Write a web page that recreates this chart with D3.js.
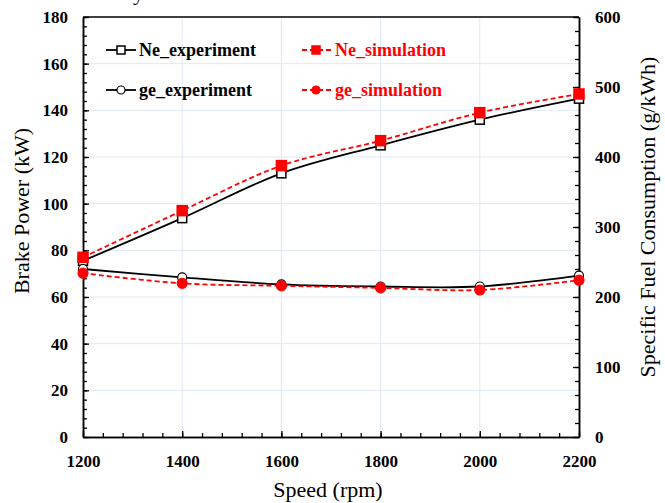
<!DOCTYPE html>
<html>
<head>
<meta charset="utf-8">
<script src="https://cdn.jsdelivr.net/npm/d3@7"></script>
<style>
  body { margin: 0; background: #fff; }
  text { font-family: "Liberation Serif", "Times New Roman", serif; }
</style>
</head>
<body>
<svg id="svg1" width="665" height="503"></svg>
<script>
// data
const speeds = [1200, 1400, 1600, 1800, 2000, 2200];
const neExperiment = [75.5, 93.8, 113, 125, 136, 145];
const neSimulation = [77, 97, 116.3, 127, 139, 147];
const geExperiment = [240, 228, 218, 215, 215, 230.5];
const geSimulation = [234, 219.5, 216, 213, 210, 224];

const speedTicks = [1200, 1400, 1600, 1800, 2000, 2200];
const powerTicks = [0, 20, 40, 60, 80, 100, 120, 140, 160, 180];
const sfcTicks = [0, 100, 200, 300, 400, 500, 600];

const svg = d3.select('#svg1');
const plotLeft = 83, plotRight = 579, plotTop = 17, plotBottom = 437;

const x = d3.scaleLinear().domain([1200, 2200]).range([plotLeft, plotRight]);
const yPow = d3.scaleLinear().domain([0, 180]).range([plotBottom, plotTop]);
const ySfc = d3.scaleLinear().domain([0, 600]).range([plotBottom, plotTop]);

// clipped title remnant at the very top
svg.append('text').attr('x', 133).attr('y', -0.5)
  .attr('font-size', 22).text('y');

// grid
const grid = svg.append('g').attr('stroke', '#dfe8f3').attr('stroke-width', 1);
grid.selectAll('.gx').data(speedTicks.slice(1, -1)).enter().append('line')
  .attr('x1', d => x(d)).attr('x2', d => x(d)).attr('y1', plotTop).attr('y2', plotBottom);
grid.selectAll('.gy').data(powerTicks.slice(1, -1)).enter().append('line')
  .attr('x1', plotLeft).attr('x2', plotRight).attr('y1', d => yPow(d)).attr('y2', d => yPow(d));

// frame top
svg.append('line').attr('x1', plotLeft).attr('x2', plotRight).attr('y1', plotTop).attr('y2', plotTop)
  .attr('stroke', '#000').attr('stroke-width', 1.5);

function styleAxis(g) {
  g.select('.domain').attr('stroke', '#000').attr('stroke-width', 1.5);
  g.selectAll('.tick line').attr('stroke', '#000').attr('stroke-width', 1.3);
  g.selectAll('.tick text').attr('font-family', '"Liberation Serif", serif')
    .attr('font-size', 17).attr('font-weight', 'bold').attr('fill', '#000');
}

// minor ticks
svg.append('g').attr('transform', `translate(0,${plotBottom})`)
  .call(d3.axisBottom(x).tickValues(d3.range(1200, 2201, 40)).tickSize(-4).tickSizeOuter(0).tickFormat(''))
  .call(styleAxis);
svg.append('g').attr('transform', `translate(${plotLeft},0)`)
  .call(d3.axisLeft(yPow).tickValues(d3.range(0, 181, 4)).tickSize(-4).tickSizeOuter(0).tickFormat(''))
  .call(styleAxis);
svg.append('g').attr('transform', `translate(${plotRight},0)`)
  .call(d3.axisRight(ySfc).tickValues(d3.range(0, 601, 20)).tickSize(-4).tickSizeOuter(0).tickFormat(''))
  .call(styleAxis);

// major axes
svg.append('g').attr('transform', `translate(0,${plotBottom})`)
  .call(d3.axisBottom(x).tickValues(speedTicks).tickSize(-6).tickSizeOuter(0).tickPadding(18).tickFormat(d3.format('d')))
  .call(styleAxis);
svg.append('g').attr('transform', `translate(${plotLeft},0)`)
  .call(d3.axisLeft(yPow).tickValues(powerTicks).tickSize(-6).tickSizeOuter(0).tickPadding(15))
  .call(styleAxis);
svg.append('g').attr('transform', `translate(${plotRight},0)`)
  .call(d3.axisRight(ySfc).tickValues(sfcTicks).tickSize(-6).tickSizeOuter(0).tickPadding(16))
  .call(styleAxis);

// axis titles
svg.append('text').attr('x', 328).attr('y', 497).attr('text-anchor', 'middle')
  .attr('font-size', 22).text('Speed (rpm)');
svg.append('text').attr('transform', 'translate(29,211) rotate(-90)').attr('text-anchor', 'middle')
  .attr('font-size', 22).text('Brake Power (kW)');
svg.append('text').attr('transform', 'translate(655,217) rotate(-90)').attr('text-anchor', 'middle')
  .attr('font-size', 22).text('Specific Fuel Consumption (g/kWh)');

// series
const series = [
  {name: 'Ne_experiment', values: neExperiment, y: yPow, color: '#000', dash: null, marker: 'square', fill: '#fff', size: 9},
  {name: 'ge_experiment', values: geExperiment, y: ySfc, color: '#000', dash: null, marker: 'circle', fill: '#fff', size: 9},
  {name: 'Ne_simulation', values: neSimulation, y: yPow, color: '#ff0000', dash: '5,3', marker: 'square', fill: '#ff0000', size: 10},
  {name: 'ge_simulation', values: geSimulation, y: ySfc, color: '#ff0000', dash: '5,3', marker: 'circle', fill: '#ff0000', size: 10}
];

function drawMarker(g, s, cx, cy, size) {
  if (s.marker === 'square') {
    g.append('rect').attr('x', cx - size / 2).attr('y', cy - size / 2)
      .attr('width', size).attr('height', size)
      .attr('fill', s.fill).attr('stroke', s.color).attr('stroke-width', 1.5);
  } else {
    g.append('circle').attr('cx', cx).attr('cy', cy).attr('r', size / 2)
      .attr('fill', s.fill).attr('stroke', s.color).attr('stroke-width', 1.2);
  }
}

series.forEach(s => {
  const pts = speeds.map((sp, i) => [x(sp), s.y(s.values[i])]);
  const line = d3.line().curve(d3.curveCatmullRom.alpha(0.5));
  svg.append('path').attr('d', line(pts)).attr('fill', 'none')
    .attr('stroke', s.color).attr('stroke-width', 1.8)
    .attr('stroke-dasharray', s.dash);
});
series.forEach(s => {
  const g = svg.append('g');
  speeds.forEach((sp, i) => drawMarker(g, s, x(sp), s.y(s.values[i]), s.size));
});

// legend
const legendPos = [
  {x: 106, y: 50}, {x: 106, y: 90}, {x: 302, y: 50}, {x: 302, y: 90}
];
series.forEach((s, i) => {
  const p = legendPos[i];
  const g = svg.append('g');
  g.append('line').attr('x1', p.x).attr('x2', p.x + 30).attr('y1', p.y).attr('y2', p.y)
    .attr('stroke', s.color).attr('stroke-width', 1.8).attr('stroke-dasharray', s.dash);
  drawMarker(g, s, p.x + (s.dash ? 14 : 15), p.y, 8);
  g.append('text').attr('x', p.x + 33).attr('y', p.y + 5.5)
    .attr('font-size', 18).attr('font-weight', 'bold').attr('fill', s.color).text(s.name);
});
</script>
</body>
</html>
